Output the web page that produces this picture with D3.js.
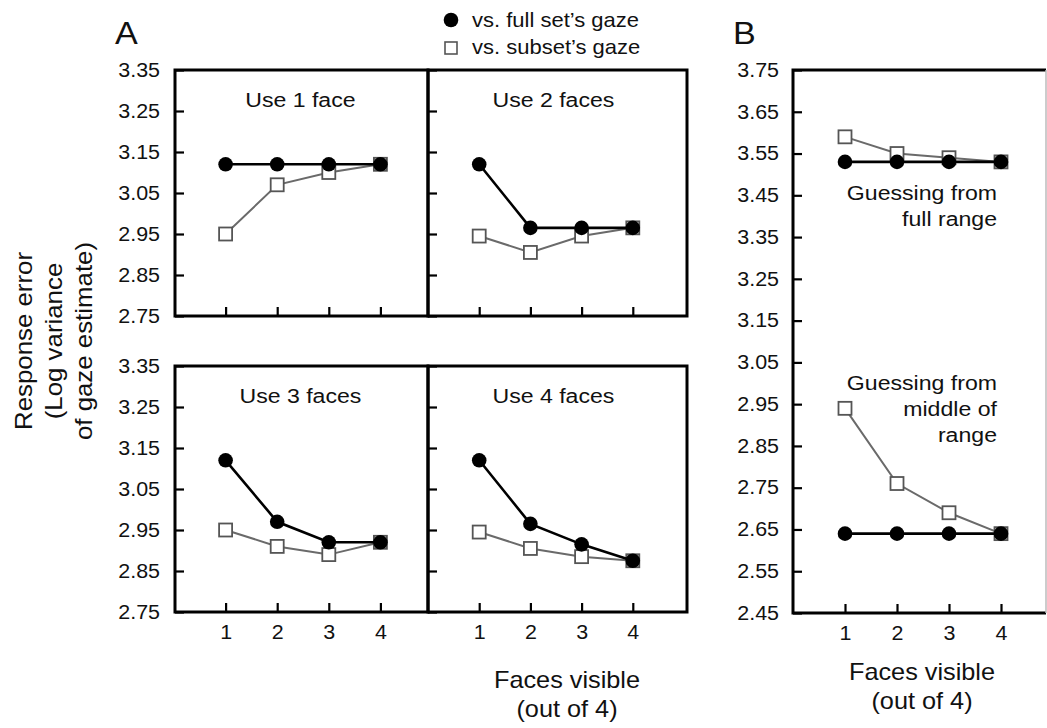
<!DOCTYPE html>
<html>
<head>
<meta charset="utf-8">
<script src="https://cdn.jsdelivr.net/npm/d3@7"></script>
<style>
  html, body { margin: 0; padding: 0; background: #fff; }
  svg { display: block; font-family: "Liberation Sans", Arial, Helvetica, sans-serif; }
  text { fill: #111; transform-box: fill-box; transform: scaleX(1.1); }
</style>
</head>
<body>
<script>
// ---------------- data ----------------
const faces = [1, 2, 3, 4];
const xTicks = [1, 2, 3, 4];
const yTicksA = [2.75, 2.85, 2.95, 3.05, 3.15, 3.25, 3.35];
const yTicksB = [2.45, 2.55, 2.65, 2.75, 2.85, 2.95, 3.05, 3.15, 3.25, 3.35, 3.45, 3.55, 3.65, 3.75];

const panelTitles = ["Use 1 face", "Use 2 faces", "Use 3 faces", "Use 4 faces"];
const use1Full   = [3.12, 3.12, 3.12, 3.12];
const use1Subset = [2.95, 3.07, 3.10, 3.12];
const use2Full   = [3.12, 2.965, 2.965, 2.965];
const use2Subset = [2.945, 2.905, 2.945, 2.965];
const use3Full   = [3.12, 2.97, 2.92, 2.92];
const use3Subset = [2.95, 2.91, 2.89, 2.92];
const use4Full   = [3.12, 2.965, 2.915, 2.875];
const use4Subset = [2.945, 2.905, 2.885, 2.875];

const guessFullFull   = [3.53, 3.53, 3.53, 3.53];
const guessFullSubset = [3.59, 3.55, 3.54, 3.53];
const guessMidFull    = [2.64, 2.64, 2.64, 2.64];
const guessMidSubset  = [2.94, 2.76, 2.69, 2.64];

const legendLabels = ["vs. full set\u2019s gaze", "vs. subset\u2019s gaze"];

// ---------------- drawing ----------------
const W = 1047, H = 728;
const svg = d3.select("body").append("svg").attr("width", W).attr("height", H);
const fmt = d3.format(".2f");

const FULL_W = 2.6, SUB_W = 2, SUB_COL = "#6a6a6a", SQ_COL = "#555";

function drawSeries(g, x, y, full, sub) {
  const ptsF = faces.map((f, i) => ({f, v: full[i]}));
  const ptsS = faces.map((f, i) => ({f, v: sub[i]}));
  const line = d3.line().x(d => x(d.f)).y(d => y(d.v));
  g.append("path").attr("d", line(ptsS)).attr("fill", "none")
    .attr("stroke", SUB_COL).attr("stroke-width", SUB_W);
  g.selectAll(null).data(ptsS).enter().append("rect")
    .attr("x", d => x(d.f) - 6.5).attr("y", d => y(d.v) - 6.5)
    .attr("width", 13).attr("height", 13)
    .attr("fill", "#fff").attr("stroke", SQ_COL).attr("stroke-width", 1.8);
  g.append("path").attr("d", line(ptsF)).attr("fill", "none")
    .attr("stroke", "#000").attr("stroke-width", FULL_W);
  g.selectAll(null).data(ptsF).enter().append("circle")
    .attr("cx", d => x(d.f)).attr("cy", d => y(d.v)).attr("r", 7.3)
    .attr("fill", "#000");
}

function styleAxis(a) {
  a.select(".domain").remove();
  a.selectAll(".tick line").attr("stroke", "#000").attr("stroke-width", 2.2);
  a.selectAll(".tick text").attr("font-size", 19.5).attr("fill", "#111");
  a.attr("font-family", null);
}

// Panel A layout
const rowsY = [[316, 70], [612, 366]];
const colsX = [[174, 432], [428, 684]];
const frameX = [[175, 428], [428, 687]];
const fullArr = [use1Full, use2Full, use3Full, use4Full];
const subArr = [use1Subset, use2Subset, use3Subset, use4Subset];

panelTitles.forEach((t, k) => {
  const r = Math.floor(k / 2), c = k % 2;
  const x = d3.scaleLinear().domain([0, 5]).range(colsX[c]);
  const y = d3.scaleLinear().domain([2.75, 3.35]).range(rowsY[r]);
  const g = svg.append("g");

  const ya = g.append("g").attr("transform", `translate(${frameX[c][0]},0)`)
    .call(d3.axisLeft(y).tickValues(yTicksA).tickSize(-9).tickPadding(15)
      .tickFormat(c === 0 ? fmt : () => ""));
  styleAxis(ya);
  const xa = g.append("g").attr("transform", `translate(0,${rowsY[r][0]})`)
    .call(d3.axisBottom(x).tickValues(xTicks).tickSize(-9).tickPadding(13)
      .tickFormat(r === 1 ? d3.format("d") : () => ""));
  styleAxis(xa);

  drawSeries(g, x, y, fullArr[k], subArr[k]);

  g.append("text").attr("x", x(2.45)).attr("y", rowsY[r][1] + 37)
    .attr("text-anchor", "middle").attr("font-size", 21).text(t);

  g.append("rect").attr("x", frameX[c][0]).attr("y", rowsY[r][1])
    .attr("width", frameX[c][1] - frameX[c][0]).attr("height", rowsY[r][0] - rowsY[r][1])
    .attr("fill", "none").attr("stroke", "#000").attr("stroke-width", 3);
});

// Panel B
{
  const x = d3.scaleLinear().domain([0, 5]).range([793, 1053]);
  const y = d3.scaleLinear().domain([2.45, 3.75]).range([613, 70]);
  const g = svg.append("g");
  const ya = g.append("g").attr("transform", "translate(793,0)")
    .call(d3.axisLeft(y).tickValues(yTicksB).tickSize(-9).tickPadding(14).tickFormat(fmt));
  styleAxis(ya);
  const xa = g.append("g").attr("transform", "translate(0,613)")
    .call(d3.axisBottom(x).tickValues(xTicks).tickSize(-9).tickPadding(13).tickFormat(d3.format("d")));
  styleAxis(xa);

  drawSeries(g, x, y, guessFullFull, guessFullSubset);
  drawSeries(g, x, y, guessMidFull, guessMidSubset);

  const ann1 = ["Guessing from", "full range"];
  ann1.forEach((s, i) => g.append("text").attr("x", 997).attr("y", 200 + i * 26)
    .attr("text-anchor", "end").attr("font-size", 21).text(s));
  const ann2 = ["Guessing from", "middle of", "range"];
  ann2.forEach((s, i) => g.append("text").attr("x", 997).attr("y", 390 + i * 26)
    .attr("text-anchor", "end").attr("font-size", 21).text(s));

  g.append("path").attr("d", "M1046,70 H793 V613 H1046").attr("fill", "none")
    .attr("stroke", "#000").attr("stroke-width", 3);
  g.append("line").attr("x1", 1046).attr("x2", 1046).attr("y1", 70).attr("y2", 613)
    .attr("stroke", "#bbb").attr("stroke-width", 1.5);

  ["Faces visible", "(out of 4)"].forEach((s, i) => g.append("text")
    .attr("x", 922).attr("y", 680 + i * 29).attr("text-anchor", "middle")
    .attr("font-size", 23).text(s));
  g.append("text").attr("x", 733).attr("y", 44).attr("font-size", 31).text("B");
}

// Panel A labels
svg.append("text").attr("x", 115).attr("y", 44).attr("font-size", 31).text("A");
["Faces visible", "(out of 4)"].forEach((s, i) => svg.append("text")
  .attr("x", 567).attr("y", 688 + i * 29).attr("text-anchor", "middle")
  .attr("font-size", 23).text(s));

// Y-axis title (rotated)
const yTitle = ["Response error", "(Log variance", "of gaze estimate)"];
yTitle.forEach((s, i) => {
  svg.append("g").attr("transform", `translate(${32 + i * 30},341) rotate(-90)`)
    .append("text").attr("text-anchor", "middle").attr("font-size", 23.5).text(s);
});

// Legend
const lg = svg.append("g");
lg.append("circle").attr("cx", 451).attr("cy", 20).attr("r", 7.3).attr("fill", "#000");
lg.append("rect").attr("x", 445).attr("y", 42).attr("width", 12).attr("height", 12)
  .attr("fill", "#fff").attr("stroke", SQ_COL).attr("stroke-width", 1.6);
legendLabels.forEach((s, i) => lg.append("text").attr("x", 472).attr("y", 27 + i * 27)
  .attr("font-size", 20).text(s));

// Horizontal stretch origin per anchor
svg.selectAll("text").each(function () {
  const a = getComputedStyle(this).textAnchor;
  const o = a === "end" ? "100% 50%" : a === "middle" ? "50% 50%" : "0% 50%";
  this.style.transformOrigin = o;
});
</script>
</body>
</html>
